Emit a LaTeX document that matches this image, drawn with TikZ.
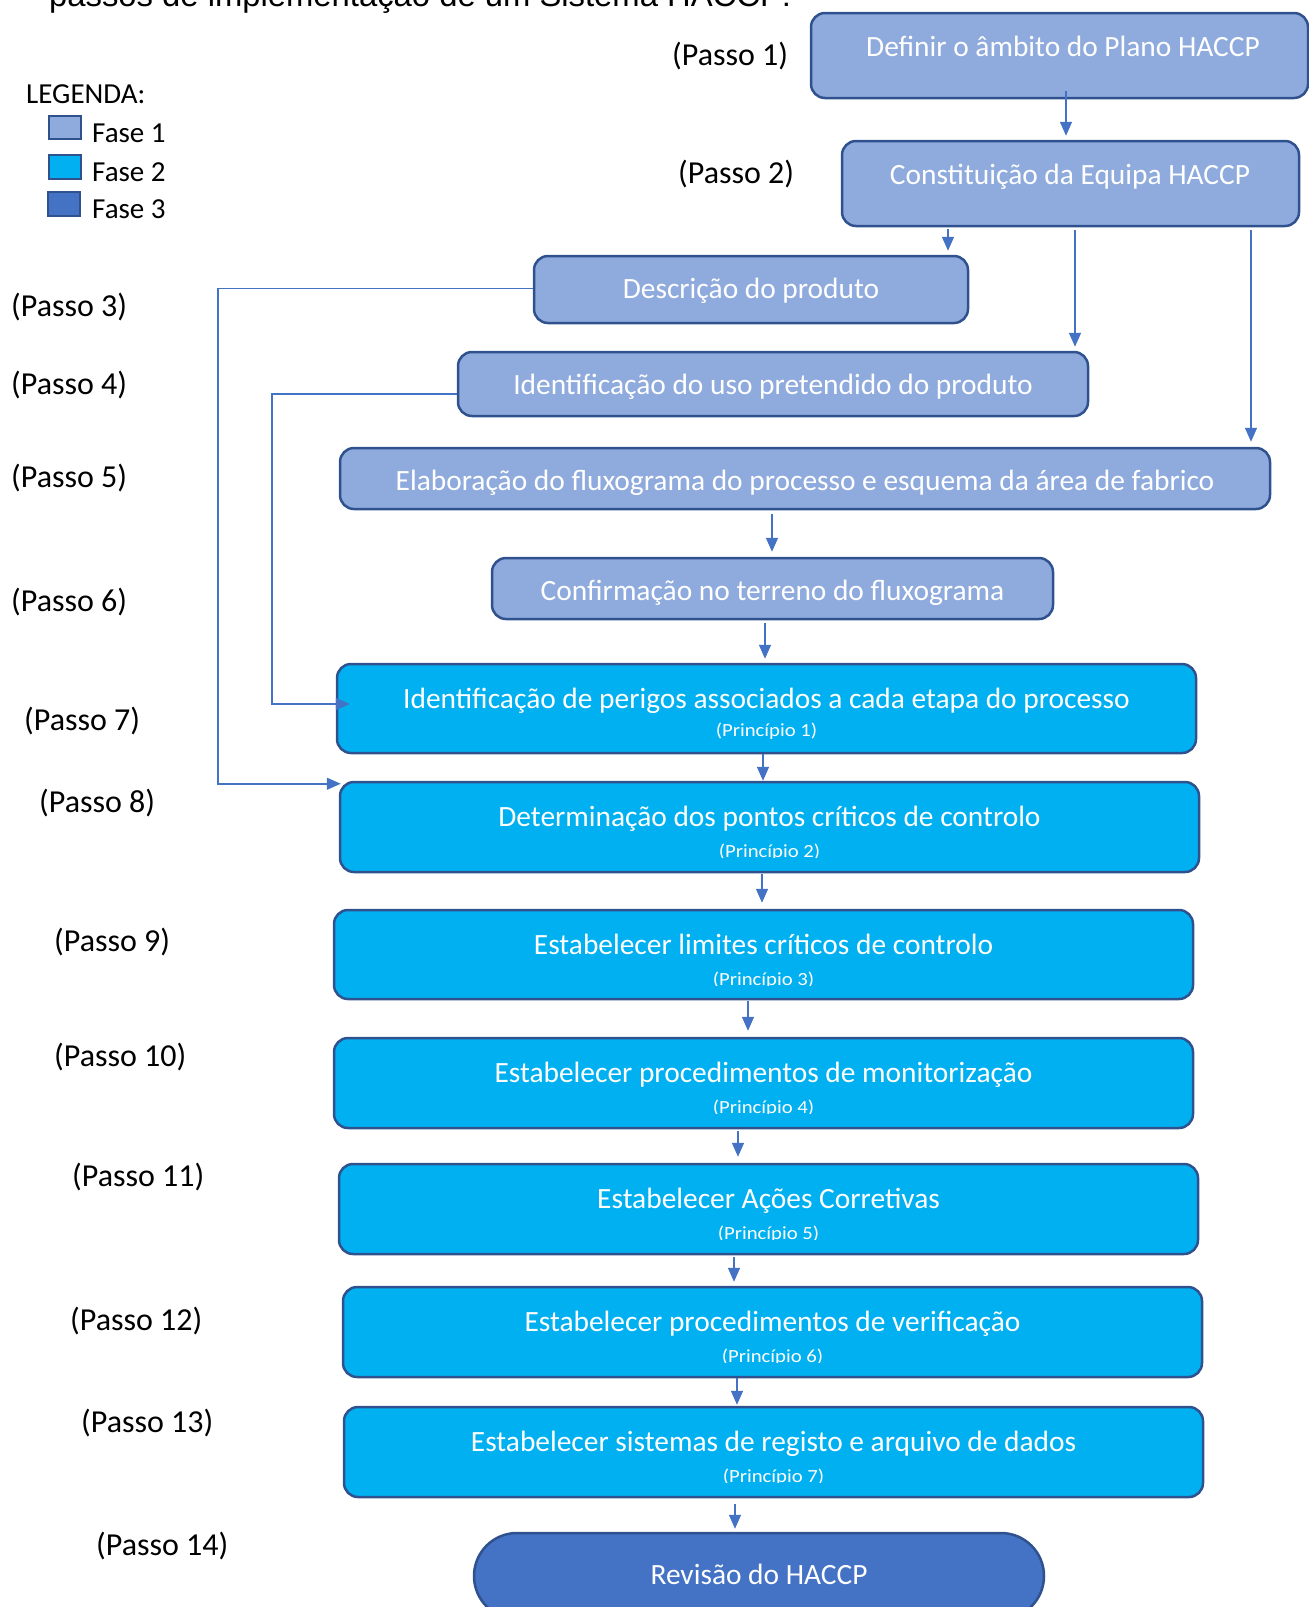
\documentclass[tikz,border=0pt]{standalone}
\usepackage{fontspec}
\setmainfont{Carlito}
\newfontfamily\headfont{Liberation Sans}
\newfontfamily\subfont[FakeStretch=1.12]{Carlito}
\usetikzlibrary{calc,arrows.meta}
\definecolor{faseA}{HTML}{8FAADC}
\definecolor{faseB}{HTML}{00B0F0}
\definecolor{faseC}{HTML}{4472C4}
\definecolor{rim}{HTML}{2F528F}
\definecolor{link}{HTML}{4472C4}

\begin{document}
\begin{tikzpicture}[x=1pt,y=-1pt,
  box/.style={draw=rim, line width=2.5pt, rounded corners=14pt, inner sep=0pt},
  f1box/.style={box, fill=faseA},
  f2box/.style={box, fill=faseB, minimum width=859pt, minimum height=90pt},
  f3box/.style={box, fill=faseC},
  btxt/.style={text=white, font=\fontsize{29.4}{34}\selectfont, inner sep=0pt, anchor=base},
  stxt/.style={text=white, font=\subfont\fontsize{18.5}{21}\selectfont, inner sep=0pt, anchor=base},
  lbl/.style={font=\fontsize{32}{36}\selectfont, inner sep=0pt, anchor=base west},
  legtxt/.style={font=\fontsize{29}{34}\selectfont, inner sep=0pt, anchor=base west},
  swatch/.style={draw=rim, line width=2pt, inner sep=0pt, minimum width=32pt, minimum height=23pt},
  arr/.style={draw=link, line width=1.5pt, -{Triangle[length=14pt,width=12pt]}},
]
\useasboundingbox (0,0) rectangle (1309,1607);

% heading line (partly above the page)
\node[font=\headfont\fontsize{32.8}{38}\selectfont, anchor=base west, inner sep=0pt] (head) at (49,6) {passos de implementação de um Sistema HACCP:};

% legend
\node[legtxt] (leg) at (26,103) {LEGENDA:};
\node[swatch, fill=faseA] (k1) at (65,127.5) {};
\node[swatch, fill=faseB, minimum height=24pt] (k2) at (65,167) {};
\node[swatch, fill=faseC, minimum height=24pt] (k3) at (64,204) {};
\node[legtxt] (f1) at (92,142) {Fase 1};
\node[legtxt] (f2) at (92,181) {Fase 2};
\node[legtxt] (f3) at (92,218) {Fase 3};

% phase 1 boxes
\node[f1box, minimum width=497pt, minimum height=85pt] (b1) at (1059.5,55.5) {};
\node[f1box, minimum width=457pt, minimum height=85pt] (b2) at (1070.5,183.5) {};
\node[f1box, minimum width=434pt, minimum height=67pt] (b3) at (751,289.5) {};
\node[f1box, minimum width=630pt, minimum height=64pt] (b4) at (773,384) {};
\node[f1box, minimum width=930pt, minimum height=61pt] (b5) at (805,478.5) {};
\node[f1box, minimum width=561pt, minimum height=61pt] (b6) at (772.5,588.5) {};

\node[btxt] (t1) at (1063,56) {Definir o âmbito do Plano HACCP};
\node[btxt] (t2) at (1070,184) {Constituição da Equipa HACCP};
\node[btxt] (t3) at (751,298) {Descrição do produto};
\node[btxt] (t4) at (773,394) {Identificação do uso pretendido do produto};
\node[btxt] (t5) at (805,490) {Elaboração do fluxograma do processo e esquema da área de fabrico};
\node[btxt] (t6) at (772.5,600) {Confirmação no terreno do fluxograma};

% phase 2 boxes
\node[f2box, minimum height=89pt] (b7) at (766.5,708.5) {};
\node[f2box] (b8) at (769.5,827) {};
\node[f2box, minimum height=89pt] (b9) at (763.5,954.5) {};
\node[f2box] (b10) at (763.5,1083) {};
\node[f2box] (b11) at (768.5,1209) {};
\node[f2box] (b12) at (772.5,1332) {};
\node[f2box] (b13) at (773.5,1452) {};

\node[btxt] (t7) at ($(b7.north)+(0,46)$) {Identificação de perigos associados a cada etapa do processo};
\node[stxt] (s7) at ($(b7.north)+(0,74)$) {(Princípio 1)};
\node[btxt] (t8) at ($(b8.north)+(0,46)$) {Determinação dos pontos críticos de controlo};
\node[btxt] (t9) at ($(b9.north)+(0,46)$) {Estabelecer limites críticos de controlo};
\node[btxt] (t10) at ($(b10.north)+(0,46)$) {Estabelecer procedimentos de monitorização};
\node[btxt] (t11) at ($(b11.north)+(0,46)$) {Estabelecer Ações Corretivas};
\node[btxt] (t12) at ($(b12.north)+(0,46)$) {Estabelecer procedimentos de verificação};
\node[btxt] (t13) at ($(b13.north)+(0,46)$) {Estabelecer sistemas de registo e arquivo de dados};

% principle captions, trimmed at the foot of their text frame
\foreach \b/\n in {b8/2, b9/3, b10/4, b11/5, b12/6, b13/7}{
  \begin{scope}
    \clip (\b.north west) rectangle ($(\b.north east)+(0,77)$);
    \node[stxt] (s\n) at ($(\b.north)+(0,77)$) {(Princípio \n)};
  \end{scope}
}

% phase 3
\node[f3box, rounded corners=43pt, minimum width=570pt, minimum height=86pt] (b14) at (759,1576) {};
\node[btxt] (t14) at (759,1584) {Revisão do HACCP};

% step labels
\node[lbl] (p1) at (672,65) {(Passo 1)};
\node[lbl] (p2) at (678,183) {(Passo 2)};
\node[lbl] (p3) at (11,316) {(Passo 3)};
\node[lbl] (p4) at (11,394) {(Passo 4)};
\node[lbl] (p5) at (11,487) {(Passo 5)};
\node[lbl] (p6) at (11,611) {(Passo 6)};
\node[lbl] (p7) at (24,730) {(Passo 7)};
\node[lbl] (p8) at (39,812) {(Passo 8)};
\node[lbl] (p9) at (54,951) {(Passo 9)};
\node[lbl] (p10) at (54,1066) {(Passo 10)};
\node[lbl] (p11) at (72,1186) {(Passo 11)};
\node[lbl] (p12) at (70,1330) {(Passo 12)};
\node[lbl] (p13) at (81,1432) {(Passo 13)};
\node[lbl] (p14) at (96,1555) {(Passo 14)};

% connectors
\draw[arr] ($(b1.south)+(6.5,-8)$) -- ($(b2.north)+(-4.5,-4)$);
\draw[arr] ($(b2.south)+(-122.5,2)$) -- ($(b3.north)+(197,-4)$);
\draw[arr] ($(b2.south)+(4.5,3)$) -- ($(b4.north)+(302,-4)$);
\draw[arr] ($(b2.south)+(180.5,3)$) -- ($(b5.north)+(446,-5)$);
\draw[arr] ($(b5.south)+(-33,4)$) -- ($(b6.north)+(-0.5,-5)$);
\draw[arr] ($(b6.south)+(-7.5,3)$) -- ($(b7.north)+(-1.5,-4)$);
\draw[arr] ($(b7.south)+(-3.5,0)$) -- ($(b8.north)+(-6.5,0)$);
\draw[arr] ($(b8.south)+(-7.5,1)$) -- ($(b9.north)+(-1.5,-6)$);
\draw[arr] ($(b9.south)+(-15.5,1)$) -- ($(b10.north)+(-15.5,-6)$);
\draw[arr] ($(b10.south)+(-25.5,2)$) -- ($(b11.north)+(-30.5,-6)$);
\draw[arr] ($(b11.south)+(-34.5,2)$) -- ($(b12.north)+(-38.5,-4)$);
\draw[arr] ($(b12.south)+(-35.5,0)$) -- ($(b13.north)+(-36.5,-1)$);
\draw[arr] ($(b13.south)+(-38.5,6)$) -- ($(b14.north)+(-24,-3)$);

\draw[arr] ($(b3.west)+(0,-1)$) -- ++(-315,0) |- ($(b8.north west)+(2,3)$);
\draw[arr] ($(b4.west)+(0,10)$) -- ++(-185,0) |- ($(b7.west)+(14,-4.5)$);
\end{tikzpicture}
\end{document}
